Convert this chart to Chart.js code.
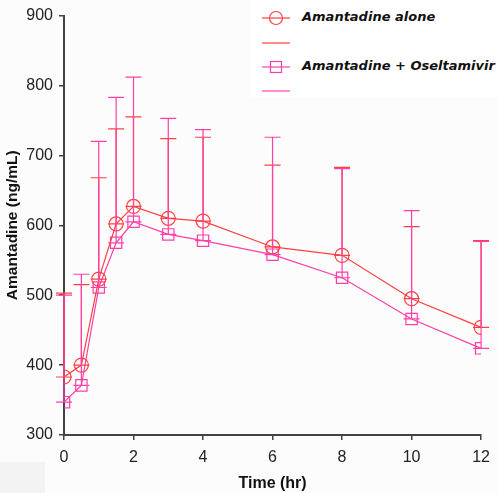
<!DOCTYPE html>
<html>
<head>
<meta charset="utf-8">
<script src="https://cdn.jsdelivr.net/npm/chart.js@4.4.1/dist/chart.umd.min.js"></script>
<style>
  html, body { margin: 0; padding: 0; background: #fcfcfc; }
  .wrap { position: relative; width: 498px; height: 493px; overflow: hidden; }
  #chart { position: absolute; left: 0; top: 0; }
  .corner { position: absolute; left: 0; top: 462px; width: 45px; height: 31px; background: #f3f3f3; }
  .legend { position: absolute; left: 250px; top: 0; width: 248px; height: 97px; background: #fff; }
  .legend-row { position: absolute; left: 0; height: 20px; width: 248px; }
  .legend-row svg { position: absolute; left: 12px; top: 0; }
  .legend-row span {
    position: absolute; left: 52px; top: 1px; white-space: nowrap;
    font: italic bold 13px "DejaVu Sans", sans-serif; color: #111;
  }
</style>
</head>
<body>
<div class="wrap">
  <div class="corner"></div>
  <canvas id="chart" width="498" height="493"></canvas>
  <div class="legend">
    <div class="legend-row" style="top:8px">
      <svg width="30" height="20"><line x1="0" y1="10" x2="28" y2="10" stroke="#ff4040" stroke-width="1.2"/><circle cx="14" cy="10" r="6.5" fill="none" stroke="#ff4040" stroke-width="1.2"/></svg>
      <span>Amantadine alone</span>
    </div>
    <div class="legend-row" style="top:33px">
      <svg width="30" height="20"><line x1="0" y1="10" x2="28" y2="10" stroke="#ff4040" stroke-width="1.2"/></svg>
    </div>
    <div class="legend-row" style="top:57px">
      <svg width="30" height="20"><line x1="0" y1="10" x2="28" y2="10" stroke="#ff3fa8" stroke-width="1.2"/><rect x="8.5" y="4.5" width="11" height="11" fill="none" stroke="#ff3fa8" stroke-width="1.2"/></svg>
      <span>Amantadine + Oseltamivir</span>
    </div>
    <div class="legend-row" style="top:81px">
      <svg width="30" height="20"><line x1="0" y1="10" x2="28" y2="10" stroke="#ff3fa8" stroke-width="1.2"/></svg>
    </div>
  </div>
</div>
<script>
const times = [0, 0.5, 1, 1.5, 2, 3, 4, 6, 8, 10, 12];
const aloneMean = [383, 400, 523, 602, 627, 610, 606, 569, 557, 495, 454];
const aloneUpper = [503, 515, 668, 738, 755, 724, 726, 686, 683, 598, 578];
const comboMean = [347, 371, 511, 575, 605, 587, 578, 558, 525, 466, 424];
const comboUpper = [500, 530, 720, 783, 812, 753, 737, 726, 681, 621, 577];
const xTicks = [0, 2, 4, 6, 8, 10, 12];
const yTicks = [300, 400, 500, 600, 700, 800, 900];

const RED = '#ff4040';
const PINK = '#ff3fa8';
const AXIS = '#3d4346';

// upper error bars, plus the flat cap through each point
const errorBars = {
    id: 'errorBars',
    afterDatasetsDraw(chart) {
        const { ctx, scales: { x, y } } = chart;
        const sets = [
            { mean: aloneMean, upper: aloneUpper, color: RED },
            { mean: comboMean, upper: comboUpper, color: PINK }
        ];
        ctx.save();
        ctx.lineWidth = 1.2;
        sets.forEach(set => {
            ctx.strokeStyle = set.color;
            times.forEach((t, i) => {
                const px = x.getPixelForValue(t);
                const py = y.getPixelForValue(set.mean[i]);
                const pu = y.getPixelForValue(set.upper[i]);
                ctx.beginPath();
                ctx.moveTo(px, py);
                ctx.lineTo(px, pu);
                ctx.moveTo(px - 8, pu);
                ctx.lineTo(px + 8, pu);
                ctx.moveTo(px - 8, py);
                ctx.lineTo(px + 8, py);
                ctx.stroke();
            });
        });
        ctx.restore();
    }
};

new Chart(document.getElementById('chart'), {
    type: 'line',
    data: {
        datasets: [{
            label: 'Amantadine alone',
            data: times.map((t, i) => ({ x: t, y: aloneMean[i] })),
            borderColor: RED,
            borderWidth: 1.2,
            pointStyle: 'circle',
            pointRadius: 7,
            pointBorderWidth: 1.2,
            pointBorderColor: RED,
            pointBackgroundColor: 'rgba(0,0,0,0)',
            fill: false,
            tension: 0
        }, {
            label: 'Amantadine + Oseltamivir',
            data: times.map((t, i) => ({ x: t, y: comboMean[i] })),
            borderColor: PINK,
            borderWidth: 1.2,
            pointStyle: 'rect',
            pointRadius: 8,
            pointBorderWidth: 1.2,
            pointBorderColor: PINK,
            pointBackgroundColor: 'rgba(0,0,0,0)',
            fill: false,
            tension: 0
        }]
    },
    options: {
        responsive: false,
        animation: false,
        layout: {
            padding: { left: 0, right: 16, top: 8, bottom: 0 }
        },
        scales: {
            x: {
                type: 'linear',
                min: 0,
                max: 12,
                afterBuildTicks: axis => { axis.ticks = xTicks.map(v => ({ value: v })); },
                afterFit: axis => { axis.height = 58; },
                ticks: {
                    color: '#222',
                    font: { family: 'Liberation Sans', size: 16 },
                    padding: 8,
                    maxRotation: 0
                },
                grid: {
                    drawOnChartArea: false,
                    color: AXIS,
                    tickLength: 5,
                    lineWidth: 1.5
                },
                border: { color: AXIS, width: 2 },
                title: {
                    display: true,
                    text: 'Time (hr)',
                    color: '#111',
                    font: { family: 'Liberation Sans', size: 16, weight: 'bold' },
                    padding: { top: 0, bottom: 0 }
                }
            },
            y: {
                type: 'linear',
                min: 300,
                max: 900,
                afterBuildTicks: axis => { axis.ticks = yTicks.map(v => ({ value: v })); },
                afterFit: axis => { axis.width = 64; },
                ticks: {
                    color: '#222',
                    font: { family: 'Liberation Sans', size: 16 },
                    padding: 6
                },
                grid: {
                    drawOnChartArea: false,
                    color: AXIS,
                    tickLength: 5,
                    lineWidth: 1.5
                },
                border: { color: AXIS, width: 2 },
                title: {
                    display: true,
                    text: 'Amantadine (ng/mL)',
                    color: '#111',
                    font: { family: 'Liberation Sans', size: 15.5, weight: 'bold' },
                    padding: { top: 3, bottom: 0 }
                }
            }
        },
        plugins: {
            legend: { display: false },
            tooltip: { enabled: false }
        }
    },
    plugins: [errorBars]
});
</script>
</body>
</html>
